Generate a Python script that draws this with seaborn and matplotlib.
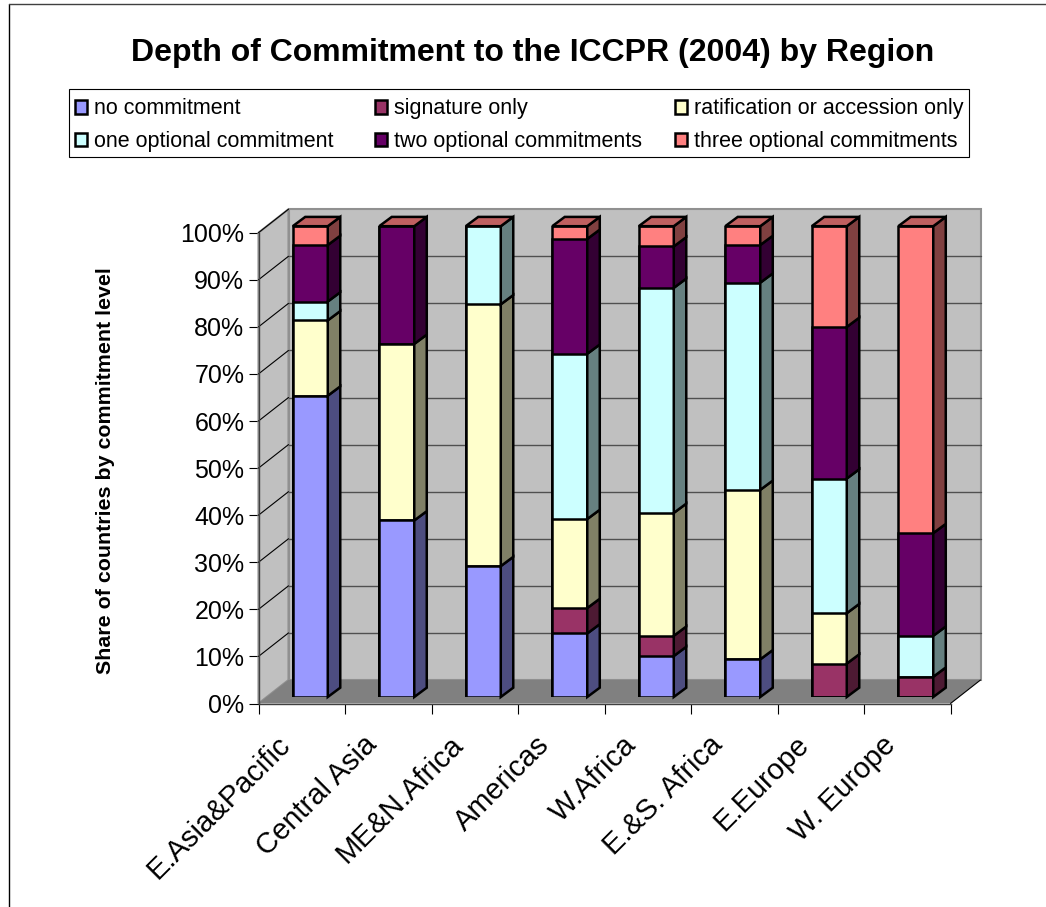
import numpy as np
import pandas as pd
import seaborn as sns
import matplotlib.pyplot as plt
from matplotlib.colors import to_rgb
from matplotlib.lines import Line2D
from matplotlib.patches import Patch, Polygon, Rectangle
from matplotlib.transforms import Affine2D

# values, share of countries in percent
regions = ['E.Asia&Pacific', 'Central Asia', 'ME&N.Africa', 'Americas',
           'W.Africa', 'E.&S. Africa', 'E.Europe', 'W. Europe']
levels = ['no commitment', 'signature only', 'ratification or accession only',
          'one optional commitment', 'two optional commitments', 'three optional commitments']
no_commitment = [64.0, 37.5, 27.8, 13.5, 8.7, 8.0, 0.0, 0.0]
signature_only = [0.0, 0.0, 0.0, 5.4, 4.3, 0.0, 7.1, 4.3]
ratification = [16.0, 37.5, 55.6, 18.9, 26.1, 36.0, 10.7, 0.0]
one_optional = [4.0, 0.0, 16.6, 35.1, 47.8, 44.0, 28.6, 8.7]
two_optional = [12.0, 25.0, 0.0, 24.4, 8.8, 8.0, 32.2, 21.8]
three_optional = [4.0, 0.0, 0.0, 2.7, 4.3, 4.0, 21.4, 65.2]
colors = ['#9999FF', '#993366', '#FFFFCC', '#CCFFFF', '#660066', '#FF8080']

W, H = 1046, 907
CAT_PX = 86.5   # pixels per category on the front plane
PCT_PX = 4.708  # pixels per percent
WALL_DX, WALL_DY = 30 / CAT_PX, 23.5 / PCT_PX
BAR_DX, BAR_DY = 12.5 / CAT_PX, 9.3 / PCT_PX
EDGE = 1.8

sns.set_theme(style='white')
plt.rcParams['font.family'] = ['Liberation Sans', 'DejaVu Sans']
plt.rcParams['text.color'] = 'black'
plt.rcParams['axes.labelcolor'] = 'black'
plt.rcParams['xtick.color'] = 'black'
plt.rcParams['ytick.color'] = 'black'

shares = np.array([no_commitment, signature_only, ratification,
                   one_optional, two_optional, three_optional])
tops = shares.cumsum(axis=0)
long_df = pd.DataFrame({
    'region': np.tile(regions, len(levels)),
    'level': np.repeat(levels, len(regions)),
    'top': tops.ravel(),
})

fig = plt.figure(figsize=(W / 100, H / 100), dpi=100, facecolor='white')
fig.add_artist(Line2D([9 / W, 9 / W], [0, 1 - 4 / H], color='black', lw=1))
fig.add_artist(Line2D([9 / W, 1], [1 - 4 / H, 1 - 4 / H], color='#404040', lw=1))

ax = fig.add_axes([258.5 / W, 1 - 703.5 / H, CAT_PX * 8 / W, PCT_PX * 100 / H])
ax.set_xlim(-0.5, 7.5)
ax.set_ylim(0, 100)
ax.patch.set_visible(False)
sns.despine(ax=ax)

# walls and floor of the 3d box
x0, x1 = -0.5, 7.5
ax.add_patch(Polygon([(x0 + WALL_DX, WALL_DY), (x1 + WALL_DX, WALL_DY),
                      (x1 + WALL_DX, 100 + WALL_DY), (x0 + WALL_DX, 100 + WALL_DY)],
                     fc='#C0C0C0', ec='#909090', lw=1.5, clip_on=False, zorder=1))
ax.add_patch(Polygon([(x0, 0), (x0 + WALL_DX, WALL_DY), (x0 + WALL_DX, 100 + WALL_DY), (x0, 100)],
                     fc='#C0C0C0', ec='#909090', lw=1.5, clip_on=False, zorder=1))
ax.add_patch(Polygon([(x0, 0), (x1, 0), (x1 + WALL_DX, WALL_DY), (x0 + WALL_DX, WALL_DY)],
                     fc='#808080', ec='none', clip_on=False, zorder=1))
ax.plot([x1, x1 + WALL_DX], [0, WALL_DY], color='black', lw=0.8, clip_on=False, zorder=2)

for v in range(10, 101, 10):
    ax.plot([x0, x0 + WALL_DX], [v, v + WALL_DY], color='black', lw=0.8, clip_on=False, zorder=2)
    if v < 100:
        ax.plot([x0 + WALL_DX, x1 + WALL_DX], [v + WALL_DY, v + WALL_DY],
                color='#505050', lw=1, clip_on=False, zorder=2)

ax.set_yticks(range(0, 101, 10))
ax.set_yticklabels([f'{v}%' for v in range(0, 101, 10)], fontsize=18)
ax.set_xticks(np.arange(-0.5, 8, 1))
ax.set_xticklabels([])
ax.set_xticks(range(8), minor=True)
ax.set_xticklabels(regions, minor=True, fontsize=21, rotation=45, ha='right', va='top',
                   rotation_mode='anchor')
ax.tick_params(axis='both', which='major', length=7.2, width=0.8, color='black', pad=3, left=True, bottom=True)
ax.tick_params(axis='x', which='minor', length=0, pad=18)
shift = Affine2D().translate(-26, -2)
for label in ax.get_xticklabels(minor=True):
    label.set_transform(label.get_transform() + shift)
for side in ['left', 'bottom']:
    ax.spines[side].set_color('#404040')
    ax.spines[side].set_linewidth(1)
    ax.spines[side].set_zorder(3)
ax.set_xlabel('')
ax.set_ylabel('Share of countries by commitment level', fontsize=15.4, fontweight='bold')
ax.yaxis.set_label_coords((115 - 258.5) / (CAT_PX * 8), (703.5 - 471) / (PCT_PX * 100))

# the bars sit a little behind the front plane, so they get their own axes
ax_bars = fig.add_axes([267 / W, 1 - 697 / H, CAT_PX * 8 / W, PCT_PX * 100 / H])
ax_bars.patch.set_visible(False)
# tallest cumulative bar first, the shorter ones paint over it
sns.barplot(data=long_df, x='region', y='top', hue='level', order=regions,
            hue_order=levels[::-1], palette=dict(zip(levels, colors)), dodge=False,
            width=0.405, errorbar=None, edgecolor='black', linewidth=EDGE, saturation=1,
            legend=False, ax=ax_bars)
ax_bars.set_xlim(-0.5, 7.5)
ax_bars.set_ylim(0, 100)
ax_bars.axis('off')

half = 0.405 / 2
for i in range(len(regions)):
    bottom = 0
    for k in range(len(levels)):
        if shares[k, i] > 0:
            top = tops[k, i]
            ax_bars.add_patch(Polygon(
                [(i + half, bottom), (i + half + BAR_DX, bottom + BAR_DY),
                 (i + half + BAR_DX, top + BAR_DY), (i + half, top)],
                fc=np.array(to_rgb(colors[k])) * 0.5, ec='black', lw=EDGE, clip_on=False))
            bottom = top
    # excel paints every bar's lid in the last series colour
    ax_bars.add_patch(Polygon(
        [(i - half, 100), (i + half, 100), (i + half + BAR_DX, 100 + BAR_DY),
         (i - half + BAR_DX, 100 + BAR_DY)],
        fc=np.array(to_rgb(colors[-1])) * 0.75, ec='black', lw=EDGE, clip_on=False))

fig.suptitle('Depth of Commitment to the ICCPR (2004) by Region', x=533 / W, y=1 - 53 / H,
             va='center', fontsize=23, fontweight='bold', color='black')

# equal column widths leave a spare gap on the right, so the frame is drawn by hand
fig.add_artist(Rectangle((68.5 / W, 1 - 157.3 / H), 900.5 / W, 67.8 / H, fill=False,
                         ec='black', lw=0.8, transform=fig.transFigure))
handles = [Patch(fc=c, ec='black', lw=EDGE) for c in colors]
order = [0, 3, 1, 4, 2, 5]
leg = fig.legend([handles[i] for i in order], [levels[i] for i in order], ncols=3,
                 loc='upper left', bbox_to_anchor=(68.5 / W, 1 - 92 / H), bbox_transform=fig.transFigure,
                 borderaxespad=0, fontsize=15.5, frameon=False, handlelength=0.58, handleheight=0.58,
                 handletextpad=0.3, columnspacing=0.53, labelspacing=0.55, borderpad=0.3, labelcolor='black')
leg._legend_handle_box.mode = 'equal'

fig.savefig('out.png', dpi=100)
